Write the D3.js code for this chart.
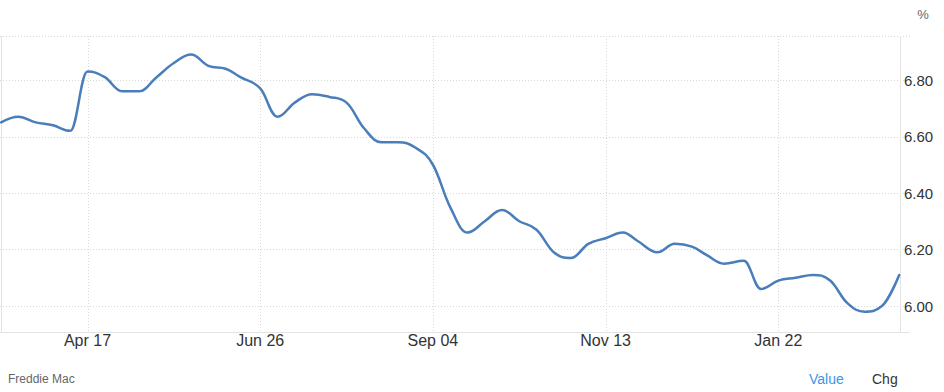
<!DOCTYPE html>
<html>
<head>
<meta charset="utf-8">
<script src="https://cdn.jsdelivr.net/npm/d3@7"></script>
<style>
html,body{margin:0;padding:0;background:#fff;}
svg{display:block;font-family:"Liberation Sans",Arial,Helvetica,sans-serif;}
</style>
</head>
<body>
<svg id="chart" width="944" height="392"></svg>
<script>
// Freddie Mac 30-year fixed mortgage rate, weekly
const dates = [
 "2025-03-13","2025-03-20","2025-03-27","2025-04-03","2025-04-10","2025-04-17","2025-04-24",
 "2025-05-01","2025-05-08","2025-05-15","2025-05-22","2025-05-29","2025-06-05","2025-06-12",
 "2025-06-18","2025-06-26","2025-07-03","2025-07-10","2025-07-17","2025-07-24","2025-07-31",
 "2025-08-07","2025-08-14","2025-08-21","2025-08-28","2025-09-04","2025-09-11","2025-09-18",
 "2025-09-25","2025-10-02","2025-10-09","2025-10-16","2025-10-23","2025-10-30","2025-11-06",
 "2025-11-13","2025-11-20","2025-11-26","2025-12-04","2025-12-11","2025-12-18","2025-12-24",
 "2025-12-31","2026-01-08","2026-01-15","2026-01-22","2026-01-29","2026-02-05","2026-02-12",
 "2026-02-19","2026-02-26","2026-03-05","2026-03-12"
];
const values = [
 6.65,6.67,6.65,6.64,6.62,6.83,6.81,
 6.76,6.76,6.81,6.86,6.89,6.85,6.84,
 6.81,6.77,6.67,6.72,6.75,6.74,6.72,
 6.63,6.58,6.58,6.56,6.50,6.35,6.26,
 6.30,6.34,6.30,6.27,6.19,6.17,6.22,
 6.24,6.26,6.23,6.19,6.22,6.21,6.18,
 6.15,6.16,6.06,6.09,6.10,6.11,6.09,
 6.01,5.98,6.00,6.11
];
const xTickDates = ["2025-04-17","2025-06-26","2025-09-04","2025-11-13","2026-01-22"];
const xTickLabels = ["Apr 17","Jun 26","Sep 04","Nov 13","Jan 22"];
const yTicks = [6.00,6.20,6.40,6.60,6.80];
const yTickLabels = ["6.00","6.20","6.40","6.60","6.80"];

const parse = d3.utcParse("%Y-%m-%d");
const data = dates.map((d,i)=>({date:parse(d), value:values[i]}));

const svg = d3.select("#chart");
const L = 1.5, R = 900.5, T = 36, B = 332;

const x = d3.scaleUtc()
  .domain([parse("2025-04-17"), parse("2026-01-22")])
  .range([87.5, 778.3]);
const y = d3.scaleLinear()
  .domain([6.00, 6.80])
  .range([306, 80]);

// grid
const grid = svg.append("g");
grid.append("line").attr("x1",0).attr("x2",910).attr("y1",T+0.5).attr("y2",T+0.5)
  .attr("stroke","#d8d8d8").attr("stroke-dasharray","1,2");
grid.selectAll(".hg").data(yTicks).enter().append("line")
  .attr("x1",0).attr("x2",904)
  .attr("y1",d=>Math.round(y(d))+0.5).attr("y2",d=>Math.round(y(d))+0.5)
  .attr("stroke","#d8d8d8").attr("stroke-dasharray","1,2");
grid.selectAll(".vg").data(xTickDates).enter().append("line")
  .attr("x1",d=>Math.round(x(parse(d)))+0.5).attr("x2",d=>Math.round(x(parse(d)))+0.5)
  .attr("y1",T).attr("y2",B)
  .attr("stroke","#d8d8d8").attr("stroke-dasharray","1,2");

// borders
svg.append("line").attr("x1",L).attr("x2",L).attr("y1",T).attr("y2",B).attr("stroke","#e3e3e3");
svg.append("line").attr("x1",R).attr("x2",R).attr("y1",T).attr("y2",B+0.5).attr("stroke","#e3e3e3");
svg.append("line").attr("x1",0).attr("x2",910).attr("y1",B+0.5).attr("y2",B+0.5).attr("stroke","#e3e3e3");

// Highcharts-like spline curve
function SplineCurve(context){ this._context = context; }
SplineCurve.prototype = {
  areaStart(){ this._line = 0; }, areaEnd(){ this._line = NaN; },
  lineStart(){ this._pts = []; },
  point(px,py){ this._pts.push([+px,+py]); },
  lineEnd(){
    const p = this._pts, ctx = this._context, s = 1.5, den = s+1;
    const rc = [];
    for(let i=0;i<p.length;i++){
      const [px,py] = p[i];
      let lcx=px, lcy=py;
      if(i>0 && i<p.length-1){
        const [lx,ly]=p[i-1],[nx,ny]=p[i+1];
        lcx=(s*px+lx)/den; lcy=(s*py+ly)/den;
        let rcx=(s*px+nx)/den, rcy=(s*py+ny)/den, corr=0;
        if(rcx!==lcx) corr=((rcy-lcy)*(rcx-px))/(rcx-lcx)+py-rcy;
        lcy+=corr; rcy+=corr;
        if(lcy>ly && lcy>py){ lcy=Math.max(ly,py); rcy=2*py-lcy; }
        else if(lcy<ly && lcy<py){ lcy=Math.min(ly,py); rcy=2*py-lcy; }
        if(rcy>ny && rcy>py){ rcy=Math.max(ny,py); lcy=2*py-rcy; }
        else if(rcy<ny && rcy<py){ rcy=Math.min(ny,py); lcy=2*py-rcy; }
        rc[i]=[rcx,rcy];
      } else rc[i]=[px,py];
      if(i===0) ctx.moveTo(px,py);
      else ctx.bezierCurveTo(rc[i-1][0],rc[i-1][1],lcx,lcy,px,py);
    }
  }
};
const splineCurve = ctx => new SplineCurve(ctx);

const line = d3.line().x(d=>x(d.date)).y(d=>y(d.value)).curve(splineCurve);
svg.append("path").datum(data).attr("d",line)
  .attr("fill","none").attr("stroke","#4a7ebb").attr("stroke-width",2.5)
  .attr("stroke-linejoin","round").attr("stroke-linecap","round");

// y labels
svg.selectAll(".yl").data(yTicks).enter().append("text")
  .attr("x",904).attr("y",d=>y(d)+5.5)
  .attr("font-size","15px").attr("fill","#333")
  .text((d,i)=>yTickLabels[i]);
svg.append("text").attr("x",923).attr("y",19).attr("text-anchor","middle")
  .attr("font-size","13px").attr("fill","#666").text("%");

// x labels
svg.selectAll(".xl").data(xTickDates).enter().append("text")
  .attr("x",d=>x(parse(d))).attr("y",346)
  .attr("text-anchor","middle").attr("font-size","16px").attr("fill","#333")
  .text((d,i)=>xTickLabels[i]);

// footer
svg.append("text").attr("x",8).attr("y",383).attr("font-size","12px").attr("fill","#666").text("Freddie Mac");
svg.append("text").attr("x",809).attr("y",384).attr("font-size","14px").attr("fill","#3c95e6").text("Value");
svg.append("text").attr("x",872).attr("y",384).attr("font-size","14px").attr("fill","#333").text("Chg");
</script>
</body>
</html>
